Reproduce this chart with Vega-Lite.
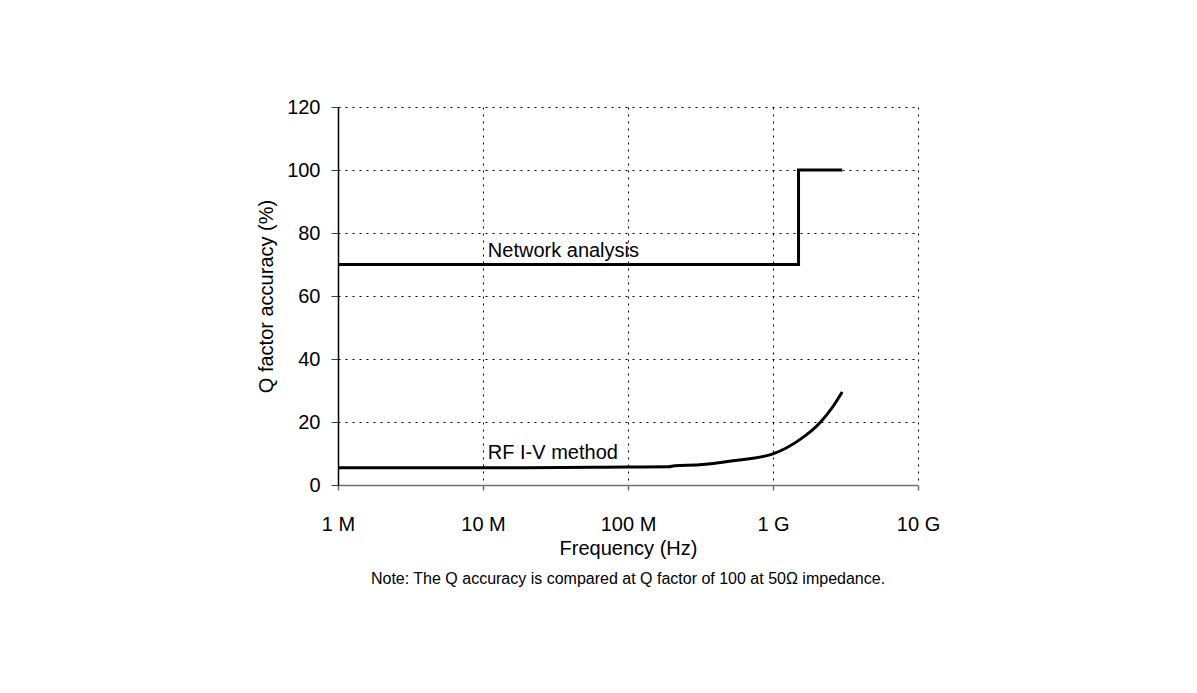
{
  "$schema": "https://vega.github.io/schema/vega-lite/v6.json",
  "width": 580,
  "height": 378,
  "autosize": {"type": "none"},
  "padding": {"left": 338, "top": 107, "right": 279, "bottom": 208},
  "background": "white",
  "config": {
    "font": "Liberation Sans",
    "view": {"stroke": null},
    "axis": {
      "labelFont": "Liberation Sans",
      "titleFont": "Liberation Sans",
      "labelFontSize": 20,
      "titleFontSize": 20,
      "labelColor": "black",
      "titleColor": "black",
      "titleFontWeight": "normal",
      "labelFlush": false,
      "labelOverlap": false,
      "gridColor": "black",
      "gridDash": [2, 5],
      "gridWidth": 1,
      "gridOpacity": 1
    }
  },
  "title": {
    "text": "Note: The Q accuracy is compared at Q factor of 100 at 50Ω impedance.",
    "orient": "bottom",
    "anchor": "middle",
    "font": "Liberation Sans",
    "fontSize": 16,
    "fontWeight": "normal",
    "color": "black",
    "offset": 13
  },
  "datasets": {
    "curves": [
      {"series": "Network analysis", "i": 1, "freq": 1000000, "q": 70},
      {"series": "Network analysis", "i": 2, "freq": 1500000000, "q": 70},
      {"series": "Network analysis", "i": 3, "freq": 1500000000, "q": 100},
      {"series": "Network analysis", "i": 4, "freq": 3000000000, "q": 100},
      {"series": "RF I-V method", "i": 1, "freq": 1000000, "q": 5.5},
      {"series": "RF I-V method", "i": 2, "freq": 10000000, "q": 5.5},
      {"series": "RF I-V method", "i": 3, "freq": 60000000, "q": 5.6},
      {"series": "RF I-V method", "i": 4, "freq": 100000000, "q": 5.7},
      {"series": "RF I-V method", "i": 5, "freq": 190000000, "q": 5.8},
      {"series": "RF I-V method", "i": 6, "freq": 210000000, "q": 6.1},
      {"series": "RF I-V method", "i": 7, "freq": 310000000, "q": 6.4},
      {"series": "RF I-V method", "i": 8, "freq": 530000000, "q": 7.7},
      {"series": "RF I-V method", "i": 9, "freq": 1000000000, "q": 9.9},
      {"series": "RF I-V method", "i": 10, "freq": 1530000000, "q": 14.4},
      {"series": "RF I-V method", "i": 11, "freq": 2100000000, "q": 19.7},
      {"series": "RF I-V method", "i": 12, "freq": 2600000000, "q": 25},
      {"series": "RF I-V method", "i": 13, "freq": 3000000000, "q": 29.5}
    ],
    "labels": [
      {"label": "Network analysis", "freq": 10800000, "q": 72.5},
      {"label": "RF I-V method", "freq": 10800000, "q": 8.3}
    ]
  },
  "layer": [
    {
      "data": {"name": "curves"},
      "mark": {"type": "line", "color": "black", "strokeWidth": 3, "interpolate": "monotone", "strokeCap": "butt"},
      "encoding": {
        "x": {
          "field": "freq",
          "type": "quantitative",
          "scale": {"type": "log", "domain": [1000000, 10000000000]},
          "axis": {
            "title": "Frequency (Hz)",
            "values": [1000000, 10000000, 100000000, 1000000000, 10000000000],
            "labelExpr": "datum.value == 1000000 ? '1 M' : datum.value == 10000000 ? '10 M' : datum.value == 100000000 ? '100 M' : datum.value == 1000000000 ? '1 G' : '10 G'",
            "domainColor": "#707070",
            "domainWidth": 1.5,
            "tickColor": "#707070",
            "tickSize": 5,
            "tickWidth": 1.5,
            "labelPadding": 24,
            "titlePadding": 4
          }
        },
        "y": {
          "field": "q",
          "type": "quantitative",
          "scale": {"domain": [0, 120], "nice": false},
          "axis": {
            "title": "Q factor accuracy (%)",
            "values": [0, 20, 40, 60, 80, 100, 120],
            "domainColor": "black",
            "domainWidth": 1.5,
            "tickColor": "#404040",
            "tickSize": 7,
            "labelPadding": 11,
            "titlePadding": 10
          }
        },
        "detail": {"field": "series"},
        "order": {"field": "i"}
      }
    },
    {
      "data": {"name": "labels"},
      "mark": {"type": "text", "align": "left", "baseline": "alphabetic", "font": "Liberation Sans", "fontSize": 20, "color": "black"},
      "encoding": {
        "x": {"field": "freq", "type": "quantitative", "scale": {"type": "log"}},
        "y": {"field": "q", "type": "quantitative"},
        "text": {"field": "label"}
      }
    }
  ]
}
